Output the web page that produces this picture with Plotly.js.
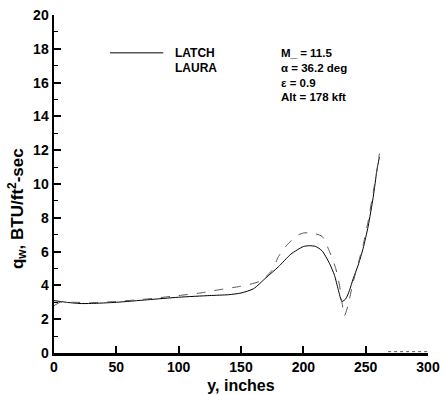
<!DOCTYPE html>
<html>
<head>
<meta charset="utf-8">
<script src="https://cdn.plot.ly/plotly-3.0.1.min.js"></script>
<style>html,body{margin:0;padding:0;background:#fff;}#chart{width:444px;height:395px;}</style>
</head>
<body>
<div id="chart"></div>
<script>
// LATCH (solid)
const latchX = [0, 5, 10, 20, 30, 50, 75, 100, 125, 140, 150, 160, 170, 180, 190, 200, 205, 210, 215, 221, 225, 228, 231, 234, 237, 240, 244, 248, 252, 256, 259, 261];
const latchY = [3.1, 3.05, 3.0, 2.93, 2.93, 3.0, 3.15, 3.3, 3.4, 3.45, 3.55, 3.8, 4.45, 5.1, 5.85, 6.3, 6.35, 6.3, 6.05, 5.3, 4.6, 3.75, 3.05, 3.2, 3.7, 4.4, 5.2, 6.2, 7.5, 9.2, 10.8, 11.6];
// LAURA (dashed)
const lauraX = [0, 5, 15, 30, 50, 75, 100, 117, 133, 149, 165, 175, 180, 187, 195, 200, 207, 215, 221, 226, 229, 231, 233, 235, 237, 240, 244, 248, 252, 256, 259, 261];
const lauraY = [2.8, 3.0, 3.0, 2.98, 3.05, 3.2, 3.4, 3.55, 3.75, 3.94, 4.24, 4.9, 5.7, 6.4, 6.95, 7.1, 7.1, 6.9, 6.0, 5.0, 4.0, 3.0, 2.2, 2.6, 3.2, 4.2, 5.3, 6.4, 7.8, 9.5, 10.8, 11.8];
const lauraTailX = [268, 300];
const lauraTailY = [0.08, 0.08];

const seriesNames = ["LATCH", "LAURA"];
const conditions = ["M_ = 11.5", "α = 36.2 deg", "ε = 0.9", "Alt = 178 kft"];
const xTicks = [0, 50, 100, 150, 200, 250, 300];
const yTicks = [0, 2, 4, 6, 8, 10, 12, 14, 16, 18, 20];

const font = "Liberation Sans, Arial, sans-serif";

const traces = [
  {x: latchX, y: latchY, name: seriesNames[0], mode: "lines", line: {color: "#000", width: 1, shape: "spline", smoothing: 0.6}},
  {x: lauraX, y: lauraY, name: seriesNames[1], mode: "lines", line: {color: "#555", width: 1, dash: "dash", shape: "spline", smoothing: 0.6}},
  {x: lauraTailX, y: lauraTailY, name: seriesNames[1], showlegend: false, mode: "lines", line: {color: "#555", width: 1, dash: "dot"}}
];

const annotations = [
  {xref: "paper", yref: "paper", x: 0.318, y: 0.888, xanchor: "left", yanchor: "middle", showarrow: false, text: "<b>" + seriesNames[0] + "</b>", font: {family: font, size: 12, color: "#000"}},
  {xref: "paper", yref: "paper", x: 0.318, y: 0.843, xanchor: "left", yanchor: "middle", showarrow: false, text: "<b>" + seriesNames[1] + "</b>", font: {family: font, size: 12, color: "#000"}},
  {xref: "paper", yref: "paper", x: -0.098, y: 0.427, xanchor: "center", yanchor: "middle", textangle: -90, showarrow: false,
   text: "<b>q<sub>w</sub>, BTU/ft<sup>2</sup>-sec</b>", font: {family: font, size: 17, color: "#000"}}
];
conditions.forEach((c, i) => {
  annotations.push({xref: "paper", yref: "paper", x: 0.601, y: 0.888 - i * 0.044, xanchor: "left", yanchor: "middle", showarrow: false,
    text: "<b>" + c + "</b>", font: {family: font, size: 11.5, color: "#000"}});
});

const layout = {
  width: 444, height: 395,
  margin: {l: 54, r: 16, t: 15, b: 42},
  paper_bgcolor: "#fff", plot_bgcolor: "#fff",
  showlegend: false,
  font: {family: font, color: "#000"},
  xaxis: {
    range: [0, 300], tickvals: xTicks, ticktext: xTicks.map(String),
    showgrid: false, zeroline: false, showline: true, linecolor: "#000", linewidth: 2.5,
    ticks: "inside", ticklen: 7, tickwidth: 2, tickcolor: "#000",
    tickfont: {family: font, size: 14, color: "#000", weight: "bold"},
    title: {text: "<b>y, inches</b>", font: {family: font, size: 16, color: "#000"}, standoff: 6}
  },
  yaxis: {
    range: [0, 20], tickvals: yTicks, ticktext: yTicks.map(String),
    showgrid: false, zeroline: false, showline: true, linecolor: "#000", linewidth: 2.5,
    ticks: "inside", ticklen: 7, tickwidth: 2, tickcolor: "#000",
    minor: {dtick: 1, ticks: "inside", ticklen: 4, tickwidth: 1, tickcolor: "#000", showgrid: false},
    tickfont: {family: font, size: 14, color: "#000", weight: "bold"}
  },
  shapes: [
    {type: "line", xref: "paper", yref: "paper", x0: 0.150, x1: 0.292, y0: 0.888, y1: 0.888, line: {color: "#000", width: 1}}
  ],
  annotations: annotations
};

Plotly.newPlot("chart", traces, layout, {staticPlot: true, displayModeBar: false});
</script>
</body>
</html>
